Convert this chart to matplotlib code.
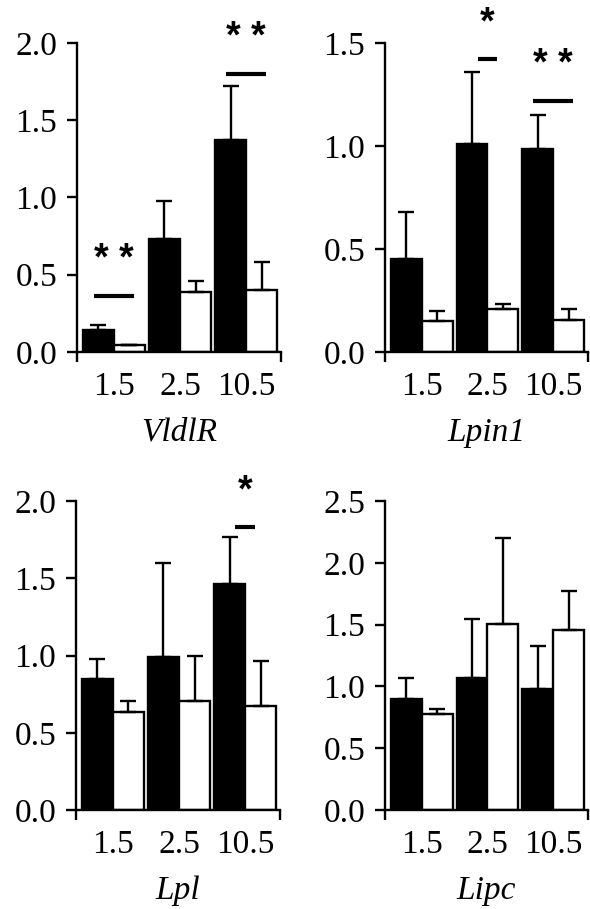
import matplotlib.pyplot as plt
import numpy as np

plt.rcParams['font.family'] = ['Liberation Serif', 'DejaVu Serif']

days = ['1.5', '2.5', '10.5']

# panel names
genes = ['VldlR', 'Lpin1', 'Lpl', 'Lipc']
ymax = [2.0, 1.5, 2.0, 2.5]

# bar heights and upper error
vldlr_black = [0.145, 0.73, 1.375]
vldlr_black_err = [0.03, 0.25, 0.345]
vldlr_white = [0.048, 0.39, 0.40]
vldlr_white_err = [0.0, 0.07, 0.18]

lpin1_black = [0.45, 1.01, 0.987]
lpin1_black_err = [0.23, 0.35, 0.163]
lpin1_white = [0.15, 0.21, 0.153]
lpin1_white_err = [0.05, 0.025, 0.057]

lpl_black = [0.85, 0.99, 1.46]
lpl_black_err = [0.13, 0.61, 0.31]
lpl_white = [0.636, 0.707, 0.673]
lpl_white_err = [0.069, 0.29, 0.291]

lipc_black = [0.895, 1.065, 0.98]
lipc_black_err = [0.175, 0.48, 0.35]
lipc_white = [0.78, 1.505, 1.456]
lipc_white_err = [0.04, 0.695, 0.314]

# significance: (group index, line height, half width, label)
vldlr_sig = [(0, 0.36, 0.3, '* *'), (2, 1.80, 0.3, '* *')]
lpin1_sig = [(1, 1.42, 0.15, '*'), (2, 1.217, 0.3, '* *')]
lpl_sig = [(2, 1.83, 0.15, '*')]
lipc_sig = []

black_list = [vldlr_black, lpin1_black, lpl_black, lipc_black]
black_err_list = [vldlr_black_err, lpin1_black_err, lpl_black_err, lipc_black_err]
white_list = [vldlr_white, lpin1_white, lpl_white, lipc_white]
white_err_list = [vldlr_white_err, lpin1_white_err, lpl_white_err, lipc_white_err]
sig_list = [vldlr_sig, lpin1_sig, lpl_sig, lipc_sig]

fig = plt.figure(figsize=(5.9, 9.09), dpi=100)
positions = [[0.1305, 0.6128, 0.3458, 0.3399],
             [0.6525, 0.6128, 0.3441, 0.3399],
             [0.1288, 0.1089, 0.3458, 0.3399],
             [0.6525, 0.1089, 0.3441, 0.3399]]

x = np.arange(3)
w = 0.47
xl, xr = -0.56, 2.53
lw = 1.7
fs = 24

for k in range(4):
    ax = fig.add_axes(positions[k])
    ekw = dict(elinewidth=lw, capthick=lw, ecolor='black')
    b = black_list[k]
    wh = white_list[k]
    be = black_err_list[k]
    we = white_err_list[k]
    ax.bar(x - w / 2, b, w, color='black', edgecolor='black', linewidth=lw,
           yerr=[np.zeros(3), be], capsize=5.5, error_kw=ekw, zorder=2)
    ax.bar(x + w / 2, wh, w, color='white', edgecolor='black', linewidth=lw,
           yerr=[np.zeros(3), we], capsize=5.5, error_kw=ekw, zorder=2)
    for g, h, hw, lab in sig_list[k]:
        ax.plot([g - hw, g + hw], [h, h], color='black', lw=3, solid_capstyle='butt',
                clip_on=False)
        ax.annotate(lab, (g, h), xytext=(0, 26), textcoords='offset points',
                    ha='center', va='center', fontsize=27, fontweight='bold',
                    family='Liberation Sans', annotation_clip=False)
    ax.set_xlim(xl, xr)
    ax.set_ylim(0, ymax[k])
    yt = np.arange(0, ymax[k] + 0.01, 0.5)
    ax.set_yticks(yt)
    ax.set_yticklabels(['%.1f' % v for v in yt])
    ax.set_xticks(x)
    ax.set_xticklabels(days)
    ax.set_xticks([xl, xr], minor=True)
    ax.tick_params(axis='x', which='major', length=0, pad=14, labelsize=fs)
    ax.tick_params(axis='x', which='minor', length=7.2, width=lw, direction='out')
    ax.tick_params(axis='y', length=7.2, width=lw, pad=7, labelsize=fs)
    for s in ['top', 'right']:
        ax.spines[s].set_visible(False)
    for s in ['left', 'bottom']:
        ax.spines[s].set_linewidth(lw)
    ax.set_xlabel(genes[k], fontsize=fs, style='italic', labelpad=11)

plt.savefig('out.png', dpi=100)
